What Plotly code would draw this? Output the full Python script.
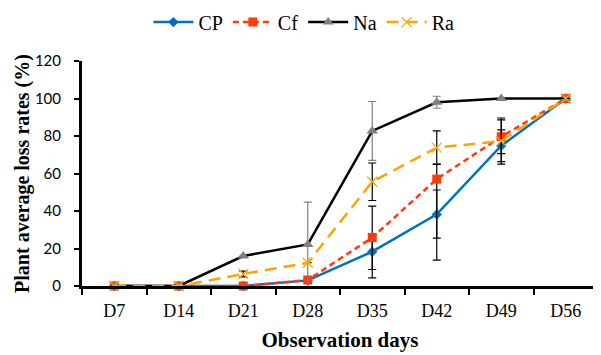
import plotly.graph_objects as go

days = ["D7", "D14", "D21", "D28", "D35", "D42", "D49", "D56"]

cp = [0, 0, 0, 3, 18.3, 38.2, 74.8, 100]
cp_err_plus = [0, 0, 0, 0, 9.4, 13, 8.5, 0]
cp_err_minus = [0, 0, 0, 0, 14, 24.4, 8.5, 0]

cf = [0, 0, 0, 3.2, 25.8, 57, 79.6, 100]
cf_err_plus = [0, 0, 0, 0, 16.8, 8, 9, 0]
cf_err_minus = [0, 0, 0, 0, 17, 31.5, 9, 0]

na = [0, 0, 16, 22.2, 82.7, 98, 100, 100]
na_err = [0, 0, 0, 22.5, 15.7, 3.2, 0, 0]

ra = [0, 0, 6.4, 12.4, 55.6, 73.8, 77.3, 100]
ra_err = [0, 0, 1.5, 0, 10, 8.9, 12.3, 0]

y_ticks = [0, 20, 40, 60, 80, 100, 120]

serif = "Liberation Serif"

fig = go.Figure()

fig.add_trace(go.Scatter(
    x=days, y=cp, name="CP", mode="lines+markers",
    line=dict(color="#0070C0", width=2.5),
    marker=dict(symbol="diamond", size=8, color="#0070C0"),
    error_y=dict(type="data", symmetric=False, array=cp_err_plus, arrayminus=cp_err_minus,
                 color="black", thickness=1.2, width=4),
    cliponaxis=False,
))
fig.add_trace(go.Scatter(
    x=days, y=cf, name="Cf", mode="lines+markers",
    line=dict(color="#FF3B0A", width=2.5, dash="6px,4px"),
    marker=dict(symbol="square", size=9, color="#FF3B0A"),
    error_y=dict(type="data", symmetric=False, array=cf_err_plus, arrayminus=cf_err_minus,
                 color="black", thickness=1.2, width=4),
    cliponaxis=False,
))
fig.add_trace(go.Scatter(
    x=days, y=na, name="Na", mode="lines+markers",
    line=dict(color="black", width=2.5),
    marker=dict(symbol="triangle-up", size=10, color="#808080"),
    error_y=dict(type="data", array=na_err, color="#808080", thickness=1.2, width=4),
    cliponaxis=False,
))
fig.add_trace(go.Scatter(
    x=days, y=ra, name="Ra", mode="lines+markers",
    line=dict(color="#FFA500", width=2.5, dash="12px,7px"),
    marker=dict(symbol="x-thin", size=10, color="#FFA500", line=dict(color="#FFA500", width=1.2)),
    error_y=dict(type="data", array=ra_err, color="black", thickness=1.2, width=4),
    cliponaxis=False,
))

fig.update_layout(
    width=601, height=355,
    margin=dict(l=74, r=11, t=53, b=77, autoexpand=False),
    paper_bgcolor="white", plot_bgcolor="white",
    showlegend=True,
    legend=dict(orientation="h", x=0.43, xanchor="center", y=1.173, yanchor="middle",
                font=dict(family=serif, size=20, color="black"),
                itemwidth=40, bgcolor="rgba(0,0,0,0)", tracegroupgap=0),
    xaxis=dict(
        type="category", range=[-0.5, 7.5],
        showline=True, linecolor="black", linewidth=3,
        ticks="outside", tickson="boundaries", ticklen=6, tickwidth=2, tickcolor="black",
        tickfont=dict(family=serif, size=18, color="black"),
        ticklabelstandoff=6,
        showgrid=False, zeroline=False,
        title=dict(text="<b>Observation days</b>", font=dict(family=serif, size=21, color="black"),
                   standoff=13),
    ),
    yaxis=dict(
        range=[0, 120], tickvals=y_ticks,
        showline=True, linecolor="black", linewidth=3,
        ticks="outside", ticklen=5, tickwidth=2, tickcolor="black",
        tickfont=dict(family="Lato", size=15, color="black"),
        ticklabelstandoff=10,
        showgrid=False, zeroline=False,
        title=dict(text="<b>Plant average loss rates (%)</b>", font=dict(family=serif, size=20, color="black"),
                   standoff=0),
    ),
)

fig.write_html("out.html")
